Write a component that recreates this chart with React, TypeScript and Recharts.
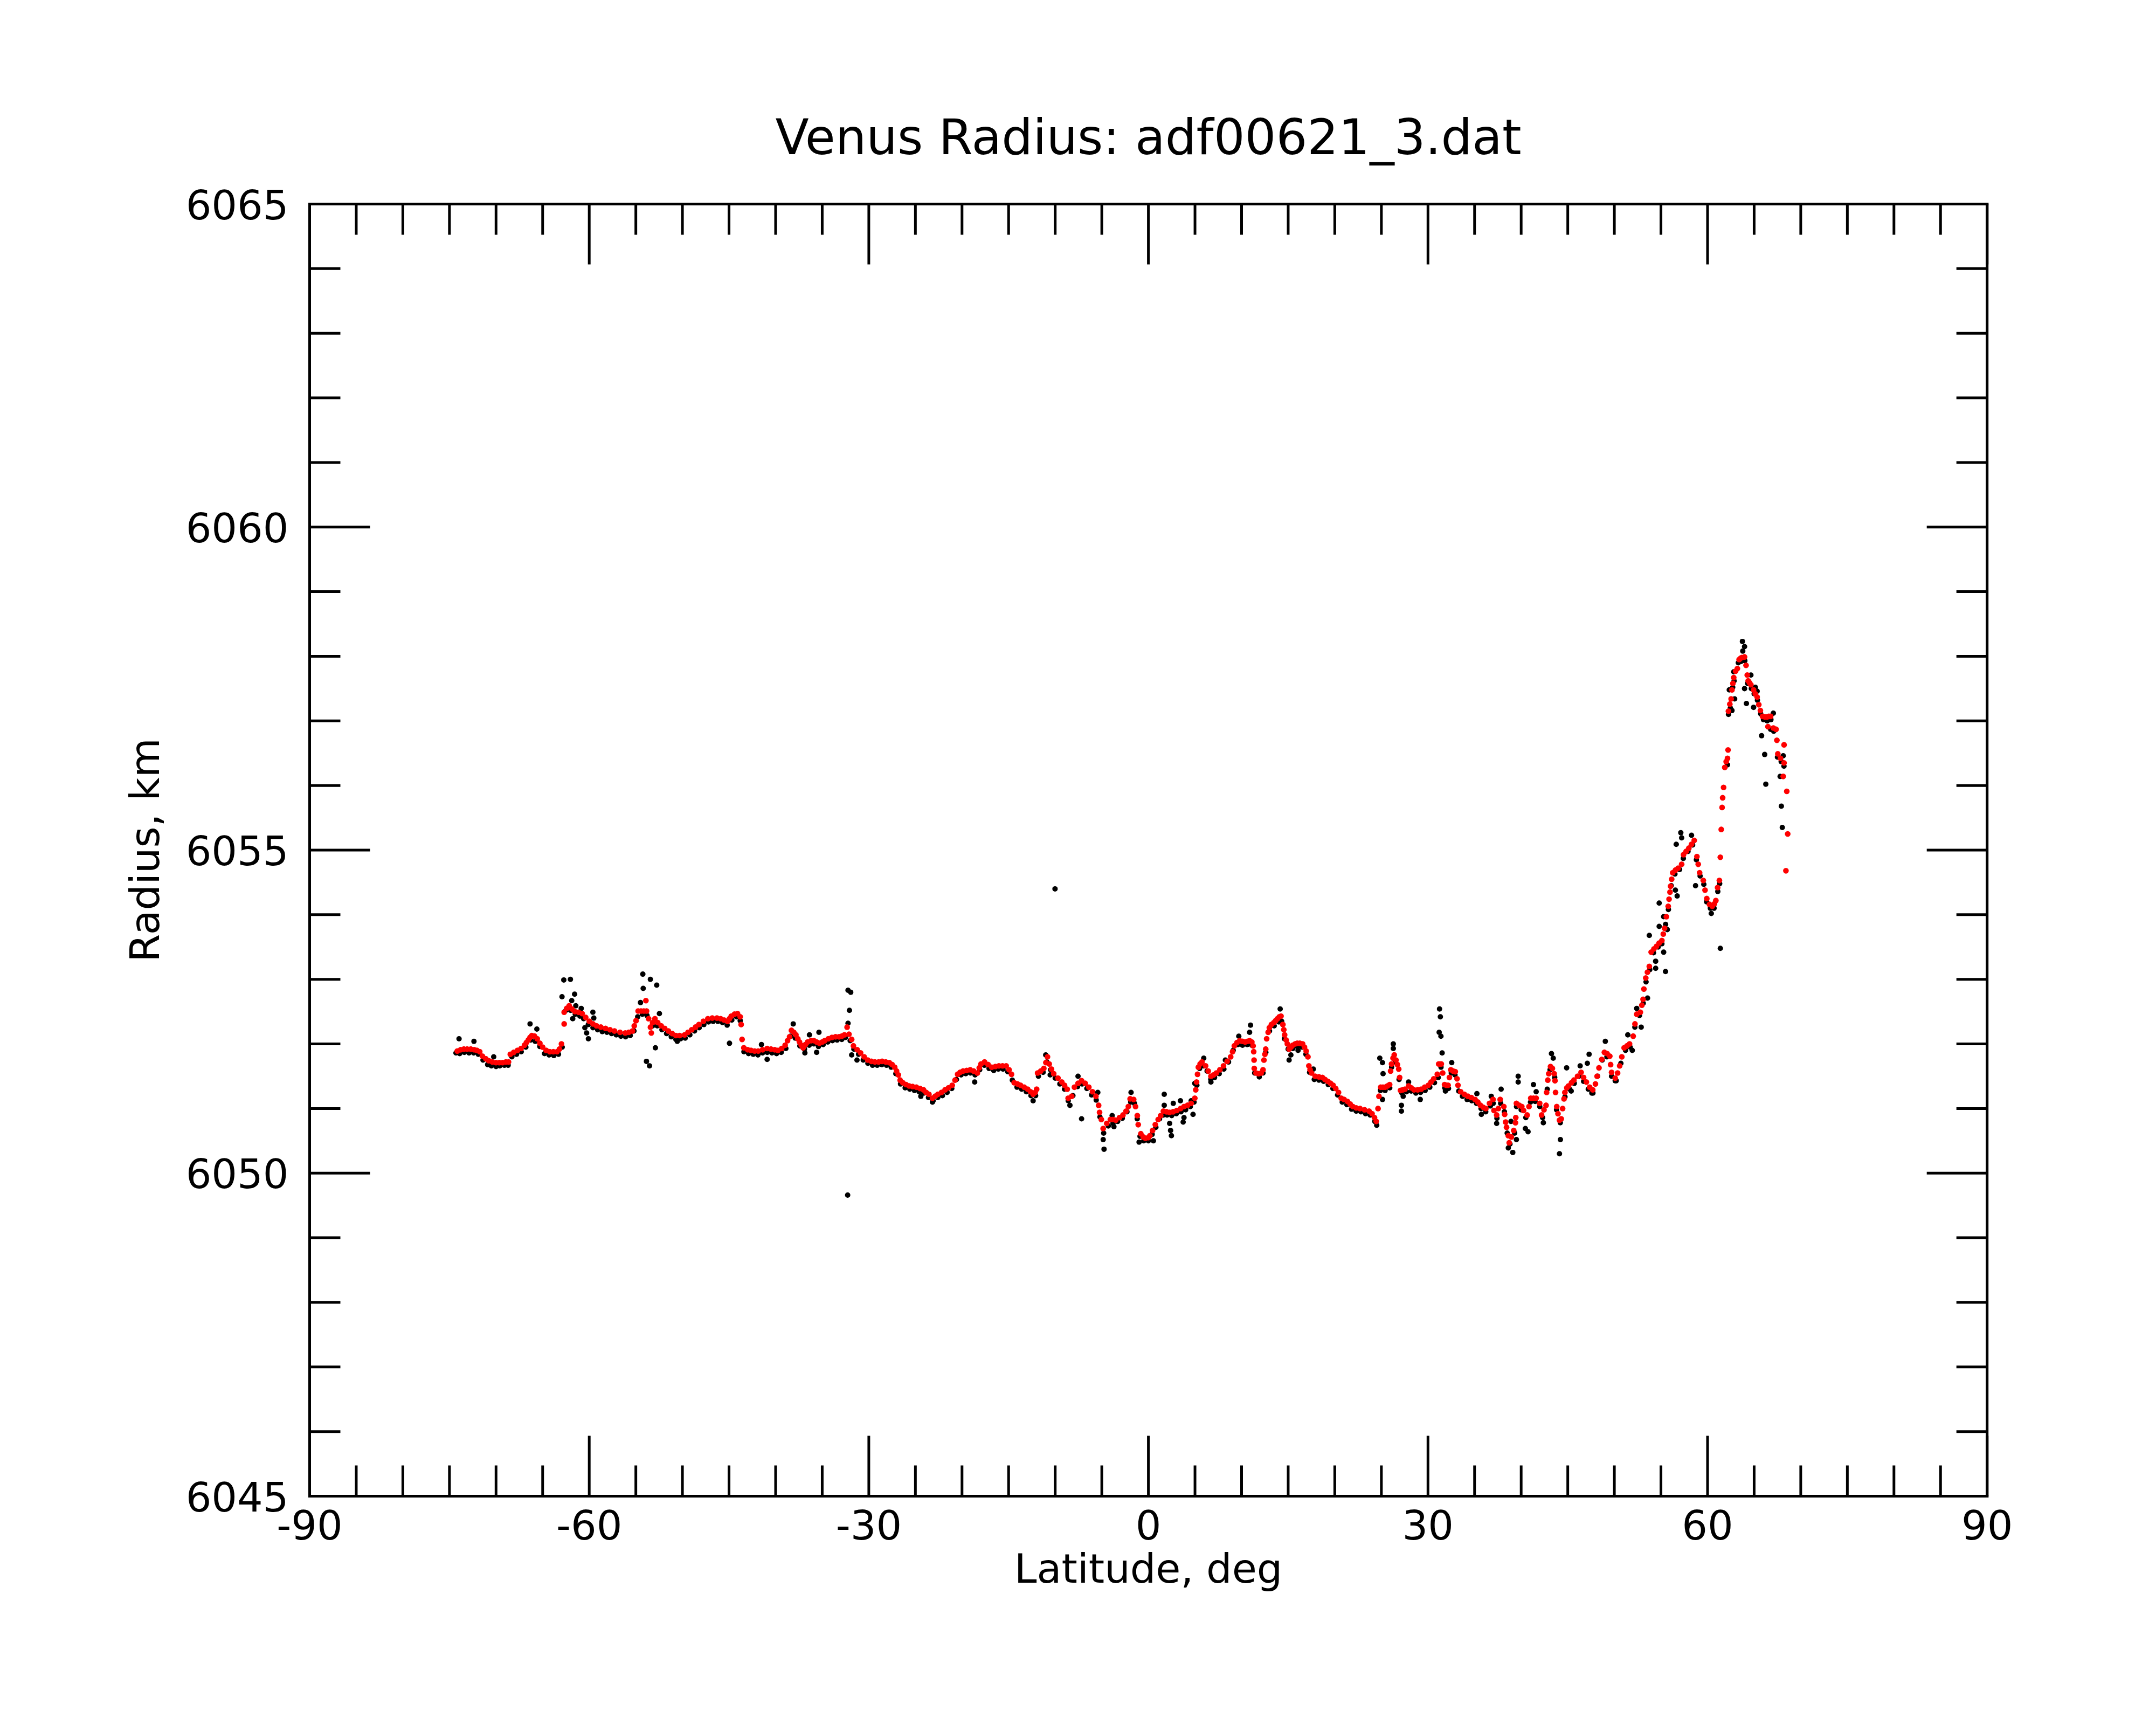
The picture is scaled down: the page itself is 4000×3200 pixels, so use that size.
import React from 'react';
import { ScatterChart, Scatter, XAxis, YAxis } from 'recharts';

// ---------- axis ticks ----------
const X_TICKS = [-90, -85, -80, -75, -70, -65, -60, -55, -50, -45, -40, -35, -30, -25, -20, -15, -10, -5, 0, 5, 10, 15, 20, 25, 30, 35, 40, 45, 50, 55, 60, 65, 70, 75, 80, 85, 90];
const X_LABELS = [-90, -60, -30, 0, 30, 60, 90];
const Y_TICKS = [6045, 6046, 6047, 6048, 6049, 6050, 6051, 6052, 6053, 6054, 6055, 6056, 6057, 6058, 6059, 6060, 6061, 6062, 6063, 6064, 6065];
const Y_LABELS = [6045, 6050, 6055, 6060, 6065];

const TITLE = 'Venus Radius: adf00621_3.dat';
const X_TITLE = 'Latitude, deg';
const Y_TITLE = 'Radius, km';

// ---------- smoothed radius (red), [latitude, radius] ----------
const RED_SOUTH: [number, number][] = [
  [-74.16,6051.89],[-73.8,6051.91],[-73.45,6051.92],[-73.1,6051.92],[-72.71,6051.92],[-72.35,6051.91],[-72.05,6051.9],[-71.75,6051.88],[-71.46,6051.81],[-71.1,6051.77],[-70.78,6051.74],[-70.4,6051.72],[-70.01,6051.71],[-69.65,6051.71],[-69.3,6051.71],[-68.95,6051.72],[-68.66,6051.72],
  [-68.47,6051.84],[-68.1,6051.87],[-67.7,6051.9],[-67.31,6051.93],[-66.95,6051.98],[-66.75,6052.02],[-66.54,6052.06],[-66.35,6052.1],[-66.16,6052.13],[-65.87,6052.12],[-65.58,6052.08],[-65.3,6052.01],[-65.0,6051.95],[-64.62,6051.9],[-64.23,6051.88],[-63.85,6051.88],[-63.46,6051.88],[-63.2,6051.92],[-62.98,6052.0],[-62.69,6052.31],
  [-62.69,6052.49],[-62.42,6052.55],[-62.15,6052.59],[-61.85,6052.54],[-61.53,6052.5],[-61.15,6052.49],[-60.76,6052.47],[-60.38,6052.41],[-59.99,6052.35],[-59.6,6052.31],[-59.22,6052.28],[-58.75,6052.26],[-58.25,6052.24],[-57.77,6052.22],[-57.29,6052.2],[-56.7,6052.18],[-56.13,6052.17],[-55.75,6052.18],[-55.36,6052.2],[-55.17,6052.28],[-54.98,6052.36],[-54.75,6052.51],[-54.45,6052.51],[-54.15,6052.51],[-53.92,6052.67],[-53.85,6052.51],[-53.63,6052.39],[-53.43,6052.26],[-53.34,6052.17],[-53.2,6052.33],[-52.95,6052.39],[-52.65,6052.33],[-52.28,6052.28],[-51.9,6052.24],[-51.51,6052.2],[-51.1,6052.16],[-50.7,6052.13],[-50.3,6052.13],[-49.77,6052.14],[-49.4,6052.18],[-49.0,6052.22],[-48.6,6052.26],[-48.23,6052.3],[-47.75,6052.35],[-47.27,6052.39],[-46.8,6052.4],[-46.3,6052.4],[-45.9,6052.39],[-45.53,6052.37],[-45.15,6052.35],[-44.95,6052.39],[-44.76,6052.43],[-44.42,6052.46],[-44.09,6052.47],[-43.8,6052.42],[-43.7,6052.3],[-43.6,6052.07],[-43.41,6051.94],[-43.0,6051.91],[-42.64,6051.9],[-42.25,6051.89],[-41.87,6051.89],[-41.4,6051.91],[-40.91,6051.93],[-40.5,6051.92],[-40.1,6051.91],[-39.75,6051.9],[-39.35,6051.93],[-38.98,6051.98],[-38.72,6052.05],[-38.5,6052.11],[-38.3,6052.21],[-38.05,6052.18],[-37.82,6052.14],[-37.62,6052.08],[-37.44,6052.03],[-37.25,6051.98],[-37.05,6051.94],[-36.8,6051.99],[-36.57,6052.03],[-36.2,6052.05],[-35.89,6052.05],[-35.6,6052.03],[-35.31,6052.01],[-35.0,6052.03],[-34.74,6052.05],[-34.35,6052.08],[-33.96,6052.1],[-33.57,6052.11],[-33.19,6052.11],[-32.9,6052.12],[-32.62,6052.14],[-32.33,6052.26],[-32.13,6052.15],[-31.84,6052.07],[-31.65,6051.97],[-31.25,6051.91],[-30.88,6051.86],[-30.5,6051.8],[-30.11,6051.75],[-29.72,6051.73],[-29.34,6051.72],[-28.95,6051.72],[-28.57,6051.73],[-28.18,6051.72],[-27.8,6051.71],[-27.5,6051.68],[-27.22,6051.64],
];

const RED_MID: [number, number][] = [
  [-27.02,6051.58],[-26.83,6051.52],[-26.64,6051.44],[-26.35,6051.4],[-26.0,6051.37],[-25.67,6051.35],[-25.3,6051.34],[-24.9,6051.33],[-24.5,6051.31],[-24.13,6051.29],[-23.85,6051.25],[-23.55,6051.22],[-23.17,6051.16],[-22.88,6051.19],[-22.59,6051.22],[-22.2,6051.25],[-21.82,6051.29],[-21.45,6051.32],[-21.05,6051.36],[-20.75,6051.44],[-20.47,6051.53],[-20.2,6051.56],[-19.89,6051.58],[-19.5,6051.59],[-19.12,6051.6],[-18.75,6051.58],[-18.35,6051.55],[-18.15,6051.63],[-17.96,6051.69],[-17.58,6051.72],[-17.2,6051.68],[-16.81,6051.64],[-16.42,6051.65],[-16.04,6051.66],[-15.65,6051.66],[-15.26,6051.66],[-14.95,6051.6],[-14.69,6051.53],[-14.4,6051.4],[-14.05,6051.38],[-13.72,6051.36],[-13.33,6051.33],[-12.95,6051.3],[-12.65,6051.26],[-12.37,6051.22],[-12.15,6051.25],[-11.99,6051.3],
  [-11.89,6051.55],[-11.55,6051.58],[-11.22,6051.62],[-11.0,6051.71],[-10.83,6051.8],[-10.64,6051.69],[-10.4,6051.61],[-10.16,6051.54],[-9.7,6051.47],[-9.29,6051.41],[-9.0,6051.36],[-8.71,6051.3],[-8.61,6051.16],[-8.23,6051.19],[-7.94,6051.33],[-7.55,6051.39],[-7.17,6051.43],[-6.78,6051.39],[-6.39,6051.33],[-6.0,6051.26],[-5.63,6051.19],[-5.34,6051.05],[-5.24,6050.94],[-5.05,6050.83],[-4.85,6050.69],[-4.47,6050.77],[-4.08,6050.83],[-3.8,6050.83],[-3.5,6050.82],[-3.1,6050.86],[-2.73,6050.9],[-2.4,6050.96],[-2.15,6051.03],[-1.96,6051.15],[-1.58,6051.14],[-1.38,6051.03],[-1.19,6050.89],[-1.09,6050.75],[-0.81,6050.61],[-0.55,6050.56],[-0.32,6050.54],[0.0,6050.55],[0.16,6050.58],[0.45,6050.66],[0.74,6050.75],[1.05,6050.83],[1.32,6050.89],[1.61,6050.96],[1.95,6050.95],[2.28,6050.94],[2.65,6050.95],[3.05,6050.97],[3.45,6051.0],[3.82,6051.03],[4.2,6051.05],[4.59,6051.08],[4.98,6051.16],[5.08,6051.29],[5.17,6051.41],[5.27,6051.53],[5.36,6051.64],[5.55,6051.69],[5.75,6051.72],[6.14,6051.66],[6.42,6051.58],[6.71,6051.5],[7.0,6051.52],[7.29,6051.55],[7.67,6051.6],[8.06,6051.66],[8.45,6051.73],[8.83,6051.8],[9.03,6051.88],[9.22,6051.97],[9.5,6052.02],[9.8,6052.05],[10.1,6052.04],[10.38,6052.03],[10.62,6052.04],[10.86,6052.05],[11.1,6052.03],[11.24,6051.97],[11.3,6051.88],[11.34,6051.75],[11.36,6051.62],[11.55,6051.55],[11.82,6051.54],[12.1,6051.55],[12.3,6051.6],[12.4,6051.75],[12.5,6051.84],[12.59,6051.92],[12.69,6052.08],[12.85,6052.18],[12.98,6052.25],[13.2,6052.3],[13.46,6052.33],[13.65,6052.36],[13.85,6052.39],[14.05,6052.42],[14.23,6052.43],[14.43,6052.3],[14.53,6052.22],[14.62,6052.14],[14.78,6052.06],[14.91,6052.0],[15.1,6051.92],[15.3,6051.95],[15.49,6051.98],[15.75,6052.0],[15.97,6052.01],[16.25,6052.01],[16.55,6052.0],[16.75,6051.95],[16.93,6051.89],[17.12,6051.8],[17.22,6051.66],[17.35,6051.6],[17.51,6051.55],[17.9,6051.5],[18.3,6051.49],[18.67,6051.48],[18.95,6051.45],[19.25,6051.42],[19.55,6051.39],[19.82,6051.36],[20.1,6051.31],
];

const RED_NORTH: [number, number][] = [
  [20.4,6051.25],[20.69,6051.16],[21.0,6051.14],[21.36,6051.11],[21.65,6051.07],[21.94,6051.03],[22.3,6051.01],[22.71,6051.0],[23.2,6050.98],[23.68,6050.96],[24.0,6050.92],[24.26,6050.86],[24.45,6050.8],[24.64,6051.0],[24.74,6051.19],[24.93,6051.33],[25.17,6051.33],[25.41,6051.33],[25.65,6051.35],[25.89,6051.37],[25.99,6051.58],[26.09,6051.69],[26.25,6051.78],[26.38,6051.83],[26.57,6051.75],[26.72,6051.68],[26.86,6051.61],[26.96,6051.48],[27.05,6051.28],[27.3,6051.29],[27.53,6051.3],[27.92,6051.35],[28.2,6051.32],[28.5,6051.29],[28.9,6051.29],[29.27,6051.3],[29.65,6051.33],[30.04,6051.36],[30.33,6051.41],[30.62,6051.46],[31.0,6051.53],[31.15,6051.69],[31.29,6051.69],[31.43,6051.69],[31.58,6051.55],[31.78,6051.37],[31.97,6051.36],[32.16,6051.36],[32.3,6051.48],[32.45,6051.6],[32.7,6051.58],[32.93,6051.57],[33.12,6051.46],[33.22,6051.36],[33.51,6051.26],[33.9,6051.22],[34.28,6051.19],[34.65,6051.17],[35.05,6051.14],[35.35,6051.1],[35.63,6051.05],[35.92,6051.02],[36.21,6051.0],[36.6,6051.08],[36.98,6051.14],[37.08,6050.97],[37.37,6050.9],[37.55,6051.0],[37.75,6051.14],[38.14,6051.03],[38.23,6050.91],[38.33,6050.79],[38.43,6050.71],[38.62,6050.58],[38.72,6050.47],[38.95,6050.56],[39.2,6050.66],[39.39,6050.78],[39.42,6050.86],[39.49,6051.08],[39.8,6051.05],[40.07,6051.03],[40.26,6050.97],[40.64,6050.9],[40.84,6051.03],[41.03,6051.16],[41.32,6051.16],[41.61,6051.16],[41.99,6051.08],[42.19,6050.9],[42.45,6050.98],[42.67,6051.05],[42.73,6051.25],[42.86,6051.44],[42.96,6051.54],[43.15,6051.65],[43.35,6051.62],[43.54,6051.54],[43.63,6051.43],[43.69,6051.25],[43.82,6051.03],[43.95,6050.92],[44.11,6050.82],[44.3,6050.84],[44.45,6051.0],[44.6,6051.15],[44.69,6051.25],[44.9,6051.32],[45.08,6051.35],[45.4,6051.4],[45.66,6051.44],[46.05,6051.5],[46.43,6051.56],[46.7,6051.48],[47.0,6051.41],[47.35,6051.33],[47.68,6051.29],[47.97,6051.38],[48.15,6051.5],[48.35,6051.63],[48.65,6051.76],[48.93,6051.87],[49.22,6051.85],[49.51,6051.81],[49.6,6051.68],[49.7,6051.56],[50.09,6051.47],[50.35,6051.55],[50.57,6051.66],[50.8,6051.8],[51.05,6051.94],[51.35,6051.97],[51.63,6052.0],[52.02,6052.12],[52.21,6052.31],[52.4,6052.46],[52.79,6052.49],[52.95,6052.6],[53.08,6052.69],[53.17,6052.85],[53.37,6053.02],[53.55,6053.11],[53.75,6053.2],[53.95,6053.42],[54.25,6053.47],[54.52,6053.51],[54.8,6053.56],[55.1,6053.6],[55.25,6053.7],[55.39,6053.79],[55.58,6053.97],[55.78,6054.13],[55.87,6054.24],[55.97,6054.35],[56.03,6054.44],[56.15,6054.55],[56.26,6054.65],[56.55,6054.69],[56.84,6054.72],[57.22,6054.78],[57.42,6054.93],[57.7,6054.98],[57.99,6055.03],[58.28,6055.09],[58.57,6055.15],[58.86,6054.9],[59.0,6054.78],[59.15,6054.65],[59.54,6054.53],[59.73,6054.38],[59.92,6054.25],[60.21,6054.16],[60.5,6054.13],[60.74,6054.17],[60.89,6054.22],[61.08,6054.42],[61.27,6054.53],[61.37,6054.89],[61.47,6055.32],[61.56,6055.66],[61.62,6055.81],[61.72,6055.97],[61.85,6056.28],[62.0,6056.37],[62.14,6056.42],[62.2,6056.55],[62.24,6057.15],[62.39,6057.26],[62.53,6057.34],[62.62,6057.48],[62.72,6057.58],[62.81,6057.67],[63.01,6057.77],[63.2,6057.81],[63.39,6057.95],[63.55,6057.97],[63.68,6057.98],[63.97,6057.99],[64.13,6057.86],[64.26,6057.71],[64.36,6057.62],[64.5,6057.59],[64.65,6057.56],[64.94,6057.48],[65.12,6057.42],[65.32,6057.37],[65.5,6057.25],[65.67,6057.16],[65.9,6057.07],[66.15,6057.06],[66.38,6057.06],[66.58,6057.07],[66.77,6057.07],[66.48,6056.91],[67.06,6056.89],[67.35,6056.87],[67.44,6056.7],[67.54,6056.49],[67.83,6056.42],[68.21,6056.35],[68.21,6056.63],[68.12,6056.14],[68.5,6055.91],[68.6,6055.25],[68.41,6054.68],
];

// ---------- raw radius (black), [latitude, radius] ----------
const BLACK_CORE: [number, number][] = [
  [-74.3,6051.86],[-73.9,6051.85],[-73.4,6051.87],[-72.9,6051.86],[-72.4,6051.86],[-71.9,6051.84],[-71.4,6051.75],[-70.9,6051.68],[-70.5,6051.66],[-70.0,6051.65],[-69.6,6051.66],[-69.1,6051.67],[-68.7,6051.67],[-68.3,6051.8],[-67.8,6051.84],[-67.3,6051.88],[-66.8,6051.95],[-66.3,6052.06],[-65.8,6052.04],[-65.3,6051.96],[-64.8,6051.85],[-64.3,6051.83],[-63.8,6051.82],[-63.3,6051.84],[-62.9,6051.95],[-62.5,6052.52],[-62.0,6052.52],[-61.5,6052.46],[-61.0,6052.43],[-60.6,6052.39],[-60.1,6052.3],[-59.6,6052.25],[-59.1,6052.22],[-58.6,6052.19],[-58.1,6052.18],[-57.6,6052.16],[-57.1,6052.14],[-56.6,6052.12],[-56.1,6052.11],[-55.6,6052.13],[-55.2,6052.2],[-54.8,6052.42],[-54.3,6052.46],[-53.8,6052.44],[-53.2,6052.28],[-52.7,6052.28],[-52.2,6052.22],[-51.7,6052.16],[-51.2,6052.11],[-50.7,6052.07],[-50.2,6052.08],[-49.7,6052.09],[-49.2,6052.14],[-48.7,6052.2],[-48.2,6052.25],[-47.7,6052.3],[-47.2,6052.34],[-46.7,6052.35],[-46.2,6052.35],[-45.7,6052.33],[-45.2,6052.29],[-44.7,6052.37],[-44.2,6052.42],[-43.8,6052.36],[-43.4,6051.88],[-42.9,6051.85],[-42.4,6051.84],[-41.9,6051.83],[-41.4,6051.86],[-40.9,6051.87],[-40.4,6051.86],[-39.9,6051.85],[-39.4,6051.87],[-38.9,6051.93],[-38.4,6052.12],[-37.9,6052.09],[-37.4,6051.97],[-36.9,6051.92],[-36.4,6051.98],[-35.9,6052.0],[-35.4,6051.96],[-34.9,6051.99],[-34.4,6052.03],[-33.9,6052.05],[-33.4,6052.06],[-32.9,6052.07],[-32.5,6052.1],[-32.0,6052.05],[-31.6,6051.92],[-31.1,6051.84],[-30.6,6051.75],[-30.1,6051.7],[-29.6,6051.67],[-29.1,6051.67],[-28.6,6051.68],[-28.1,6051.67],[-27.6,6051.64],[-27.1,6051.54],
  [-26.6,6051.38],[-26.1,6051.32],[-25.6,6051.3],[-25.1,6051.28],[-24.6,6051.26],[-24.1,6051.24],[-23.6,6051.17],[-23.1,6051.12],[-22.6,6051.17],[-22.1,6051.2],[-21.6,6051.25],[-21.1,6051.31],[-20.6,6051.45],[-20.1,6051.52],[-19.6,6051.54],[-19.1,6051.55],[-18.6,6051.52],[-18.1,6051.6],[-17.6,6051.67],[-17.1,6051.62],[-16.6,6051.59],[-16.1,6051.61],[-15.6,6051.61],[-15.1,6051.57],[-14.6,6051.44],[-14.1,6051.33],[-13.6,6051.3],[-13.1,6051.26],[-12.6,6051.2],[-12.1,6051.2],[-11.8,6051.5],[-11.3,6051.56],[-10.9,6051.72],[-10.5,6051.6],[-10.0,6051.47],[-9.5,6051.38],[-9.0,6051.3],[-8.6,6051.12],[-8.1,6051.2],[-7.6,6051.34],[-7.1,6051.38],[-6.6,6051.31],[-6.1,6051.21],[-5.6,6051.13],[-5.2,6050.87],[-4.8,6050.62],[-4.3,6050.73],[-3.8,6050.77],[-3.3,6050.8],[-2.8,6050.85],[-2.3,6050.95],[-1.9,6051.1],[-1.5,6051.08],[-1.2,6050.84],[-0.9,6050.57],[-0.5,6050.5],[0.0,6050.5],[0.4,6050.6],[0.8,6050.71],[1.2,6050.84],[1.6,6050.9],[2.0,6050.9],[2.5,6050.89],[3.0,6050.92],[3.5,6050.95],[4.0,6050.98],[4.5,6051.03],[4.9,6051.1],[5.2,6051.36],[5.5,6051.62],[5.9,6051.66],[6.3,6051.58],[6.7,6051.45],[7.1,6051.48],[7.6,6051.54],[8.1,6051.61],[8.6,6051.72],[9.1,6051.9],[9.6,6051.99],[10.1,6051.98],[10.6,6051.99],[11.1,6051.98],[11.4,6051.55],[11.9,6051.49],[12.3,6051.55],[12.6,6051.87],[13.0,6052.2],[13.5,6052.28],[14.0,6052.34],[14.3,6052.35],[14.6,6052.08],[15.0,6051.92],[15.5,6051.93],[16.0,6051.96],[16.5,6051.95],[16.9,6051.84],[17.3,6051.56],[17.8,6051.45],[18.3,6051.44],[18.8,6051.42],[19.3,6051.37],[19.8,6051.31],
  [20.3,6051.21],[20.8,6051.1],[21.3,6051.06],[21.8,6050.99],[22.3,6050.96],[22.8,6050.95],[23.3,6050.92],[23.8,6050.9],[24.3,6050.8],[24.5,6050.74],[24.9,6051.28],[25.4,6051.28],[25.9,6051.32],[26.1,6051.64],[26.5,6051.72],[26.9,6051.45],[27.2,6051.24],[27.7,6051.26],[28.2,6051.27],[28.7,6051.24],[29.2,6051.25],[29.7,6051.28],[30.2,6051.33],[30.7,6051.4],[31.1,6051.48],[31.4,6051.64],[31.8,6051.32],[32.2,6051.31],[32.5,6051.55],[32.9,6051.52],[33.3,6051.27],[33.7,6051.19],[34.2,6051.14],[34.7,6051.12],[35.2,6051.08],[35.7,6051.0],[36.2,6050.95],[36.7,6051.04],[37.0,6051.08],[37.4,6050.85],[37.8,6051.08],[38.2,6050.95],[38.5,6050.62],[38.8,6050.45],[39.3,6050.62],[39.5,6051.03],[40.0,6050.98],[40.5,6050.86],[41.0,6051.1],[41.5,6051.11],[42.0,6051.03],[42.3,6050.86],[42.8,6051.3],[43.1,6051.6],[43.6,6051.48],[43.8,6050.98],[44.2,6050.78],[44.7,6051.18],[45.2,6051.3],[45.7,6051.39],[46.2,6051.5],[46.7,6051.42],[47.2,6051.3],[47.7,6051.24],[48.2,6051.5],[48.7,6051.75],[49.2,6051.8],[49.7,6051.5],[50.2,6051.43],[50.7,6051.7],[51.2,6051.9],[51.7,6051.95],[52.2,6052.26],[52.7,6052.44],[53.1,6052.63],[53.4,6052.96],[53.8,6053.15],[54.2,6053.41],[54.7,6053.5],[55.1,6053.55],[55.5,6053.85],[55.8,6054.08],[56.1,6054.45],[56.5,6054.63],[57.0,6054.7],[57.4,6054.87],[57.9,6054.98],[58.4,6055.08],[58.8,6054.85],[59.2,6054.6],[59.6,6054.47],[59.9,6054.2],[60.3,6054.1],[60.7,6054.1],[61.1,6054.36],[61.3,6054.48],
  [62.25,6057.1],[62.45,6057.2],[62.7,6057.52],[62.85,6057.62],[63.3,6057.9],[63.6,6057.92],[64.0,6057.93],[64.3,6057.58],[64.7,6057.5],[65.0,6057.42],[65.35,6057.32],[65.7,6057.11],[66.0,6057.02],[66.4,6057.0],[66.8,6057.02],[67.1,6056.84],[67.5,6056.44],[67.9,6056.37],[68.2,6056.3],
];

const BLACK_OUTLIERS: [number, number][] = [
  [-73.97,6052.08],[-72.37,6052.04],[-70.25,6051.8],[-66.35,6052.31],[-65.62,6052.23],[-62.73,6052.99],[-62.02,6053.0],[-62.92,6052.73],[-61.57,6052.77],[-61.88,6052.67],[-61.44,6052.59],[-60.86,6052.55],[-61.77,6052.39],[-59.61,6052.49],[-59.51,6052.4],[-60.47,6052.25],[-60.28,6052.17],[-60.09,6052.08],[-54.25,6053.08],[-53.44,6053.0],[-52.76,6052.91],[-54.21,6052.86],[-54.5,6052.64],[-52.47,6052.47],[-52.9,6051.94],[-53.86,6051.73],[-53.53,6051.66],
  [-44.95,6052.01],[-32.23,6052.83],[-31.94,6052.8],[-32.08,6052.52],[-32.23,6052.32],[-32.27,6049.66],[-31.84,6051.83],[-31.27,6051.75],[-38.11,6052.31],[-40.91,6051.76],[-41.52,6051.99],[-50.55,6052.04],[-35.35,6052.18],[-36.37,6052.14],[-35.6,6051.87],[-36.86,6051.86],
  [-18.64,6051.41],[-24.42,6051.19],[-23.17,6051.1],[-12.37,6051.12],[-11.02,6051.83],[-10.54,6051.52],[-7.55,6051.5],[-8.42,6051.05],[-7.17,6050.84],[-4.85,6050.52],[-4.76,6050.37],[-5.43,6051.25],[-3.89,6050.89],[-3.7,6050.72],[-10.02,6054.4],
  [-1.86,6051.25],[-1.0,6050.48],[0.54,6050.5],[1.7,6051.22],[1.7,6051.05],[2.28,6050.77],[2.38,6050.66],[2.47,6050.58],[2.67,6051.08],[3.44,6051.12],[3.73,6050.79],[3.82,6050.86],[4.59,6051.12],[4.79,6050.91],[4.98,6051.39],[5.94,6051.78],[6.71,6051.41],[8.26,6051.75],[9.7,6052.12],[10.96,6052.29],[10.86,6052.18],[14.14,6052.54],[15.1,6051.75],[15.29,6051.83],[16.06,6051.9],[17.7,6051.61],
  [24.83,6051.78],[25.12,6051.71],[25.18,6051.54],[25.12,6051.14],[26.28,6052.0],[26.28,6051.93],[27.15,6051.05],[27.15,6050.96],[27.34,6051.19],[27.92,6051.41],[29.17,6051.14],[31.24,6052.54],[31.33,6052.42],[31.2,6052.18],[31.39,6052.12],[31.52,6051.86],[31.87,6051.27],[32.55,6051.71],[35.25,6051.23],[35.73,6050.91],[36.79,6051.19],[37.37,6050.77],[37.85,6051.3],[39.1,6050.32],[38.62,6050.39],[38.91,6050.8],[39.49,6050.52],[39.68,6051.5],[39.68,6051.41],[40.45,6050.69],[40.74,6050.64],[41.32,6051.37],[41.61,6051.26],[42.38,6050.78],[43.25,6051.85],[43.44,6051.78],[44.21,6050.52],[44.11,6050.3],
  [57.13,6055.27],[57.22,6055.19],[56.64,6055.09],[58.28,6055.23],[58.71,6054.45],[56.55,6054.38],[56.74,6054.29],[54.81,6054.18],[55.29,6053.97],[55.68,6053.77],[54.81,6053.82],[53.75,6053.68],[55.29,6053.42],[55.49,6053.12],[54.43,6053.17],[54.43,6053.28],[61.37,6053.48],[53.56,6052.71],[52.4,6052.55],[52.88,6052.26],[51.44,6052.14],[51.92,6051.9],[49.03,6052.04],[47.29,6051.84],[47.1,6051.7],[44.88,6051.63],[46.33,6051.66],[45.37,6051.27],[47.58,6051.24],[50.09,6051.43],[60.4,6054.02],
  [63.74,6058.23],[63.97,6058.15],[63.78,6058.08],[62.81,6057.76],[64.65,6057.71],[62.33,6057.48],[62.91,6057.34],[62.62,6057.16],[63.97,6057.5],[64.17,6057.27],[64.94,6057.21],[65.13,6057.52],[65.32,6057.46],[67.06,6057.12],[66.77,6056.87],[65.8,6056.77],[66.13,6056.48],[68.12,6056.46],[67.79,6056.14],[66.25,6056.02],[67.92,6055.68],[68.02,6055.35],[62.14,6056.32],
];

// ---------- layout ----------
const W = 4000;
const H = 3200;
const PLOT_L = 574.5;
const PLOT_R = 3686.7;
const PLOT_T = 378.5;
const PLOT_B = 2775.5;
const BOTTOM_AXIS_H = 100;
const TOP_AXIS_H = 50;
const LEFT_AXIS_W = 200;
const RIGHT_AXIS_W = 50;
const MAJOR_LEN = 112;
const MINOR_LEN = 57;
const LINE_W = 5;
const FONT = '"DejaVu Sans", Verdana, sans-serif';
const LABEL_SIZE = 75;
const RED_R = 5.3;
const BLACK_R = 5;

const toPoints = (rows: [number, number][]) => rows.map(([x, y]) => ({ x, y }));
const redData = [...toPoints(RED_SOUTH), ...toPoints(RED_MID), ...toPoints(RED_NORTH)];
const blackData = [...toPoints(BLACK_CORE), ...toPoints(BLACK_OUTLIERS)];

const BottomTick = (p: any) => {
  const v = p.payload.value;
  const major = X_LABELS.includes(v);
  return (
    <g>
      <line x1={p.x} x2={p.x} y1={p.y} y2={p.y - (major ? MAJOR_LEN : MINOR_LEN)} stroke="#000" strokeWidth={LINE_W} />
      {major && (
        <text x={p.x} y={p.y + 80} textAnchor="middle" fontSize={LABEL_SIZE} fontFamily={FONT} fill="#000">{String(v)}</text>
      )}
    </g>
  );
};

const TopTick = (p: any) => {
  const v = p.payload.value;
  const major = X_LABELS.includes(v);
  return <line x1={p.x} x2={p.x} y1={p.y} y2={p.y + (major ? MAJOR_LEN : MINOR_LEN)} stroke="#000" strokeWidth={LINE_W} />;
};

const LeftTick = (p: any) => {
  const v = p.payload.value;
  const major = Y_LABELS.includes(v);
  return (
    <g>
      <line x1={p.x} x2={p.x + (major ? MAJOR_LEN : MINOR_LEN)} y1={p.y} y2={p.y} stroke="#000" strokeWidth={LINE_W} />
      {major && (
        <text x={p.x - 39} y={p.y + 28} textAnchor="end" fontSize={LABEL_SIZE} fontFamily={FONT} fill="#000">{String(v)}</text>
      )}
    </g>
  );
};

const RightTick = (p: any) => {
  const v = p.payload.value;
  const major = Y_LABELS.includes(v);
  return <line x1={p.x} x2={p.x - (major ? MAJOR_LEN : MINOR_LEN)} y1={p.y} y2={p.y} stroke="#000" strokeWidth={LINE_W} />;
};

const RedDot = (p: any) => <circle cx={p.cx} cy={p.cy} r={RED_R} fill="#ff0000" />;
const BlackDot = (p: any) => <circle cx={p.cx} cy={p.cy} r={BLACK_R} fill="#000000" />;

const axisLine = { stroke: '#000', strokeWidth: LINE_W, strokeLinecap: 'square' as const };

export default function App() {
  const plotCX = (PLOT_L + PLOT_R) / 2;
  const plotCY = (PLOT_T + PLOT_B) / 2;
  return (
    <div style={{ position: 'absolute', left: 0, top: 0, width: W, height: H, background: '#fff' }}>
      <ScatterChart
        width={W}
        height={H}
        margin={{
          top: PLOT_T - TOP_AXIS_H,
          bottom: H - PLOT_B - BOTTOM_AXIS_H,
          left: PLOT_L - LEFT_AXIS_W,
          right: W - PLOT_R - RIGHT_AXIS_W,
        }}
      >
        <XAxis
          xAxisId="b"
          type="number"
          dataKey="x"
          orientation="bottom"
          domain={[-90, 90]}
          ticks={X_TICKS}
          interval={0}
          height={BOTTOM_AXIS_H}
          tickSize={0}
          tickMargin={0}
          tickLine={false}
          axisLine={axisLine}
          tick={(p: any) => <BottomTick {...p} />}
          allowDataOverflow
        />
        <XAxis
          xAxisId="t"
          type="number"
          dataKey="x"
          orientation="top"
          domain={[-90, 90]}
          ticks={X_TICKS}
          interval={0}
          height={TOP_AXIS_H}
          tickSize={0}
          tickMargin={0}
          tickLine={false}
          axisLine={axisLine}
          tick={(p: any) => <TopTick {...p} />}
          allowDataOverflow
        />
        <YAxis
          yAxisId="l"
          type="number"
          dataKey="y"
          orientation="left"
          domain={[6045, 6065]}
          ticks={Y_TICKS}
          interval={0}
          width={LEFT_AXIS_W}
          tickSize={0}
          tickMargin={0}
          tickLine={false}
          axisLine={axisLine}
          tick={(p: any) => <LeftTick {...p} />}
          allowDataOverflow
        />
        <YAxis
          yAxisId="r"
          type="number"
          dataKey="y"
          orientation="right"
          domain={[6045, 6065]}
          ticks={Y_TICKS}
          interval={0}
          width={RIGHT_AXIS_W}
          tickSize={0}
          tickMargin={0}
          tickLine={false}
          axisLine={axisLine}
          tick={(p: any) => <RightTick {...p} />}
          allowDataOverflow
        />
        <Scatter
          name="raw"
          data={blackData}
          xAxisId="b"
          yAxisId="l"
          shape={(p: any) => <BlackDot {...p} />}
          isAnimationActive={false}
        />
        <Scatter
          name="smoothed"
          data={redData}
          xAxisId="b"
          yAxisId="l"
          shape={(p: any) => <RedDot {...p} />}
          isAnimationActive={false}
        />
      </ScatterChart>
      <svg
        width={W}
        height={H}
        style={{ position: 'absolute', left: 0, top: 0, pointerEvents: 'none' }}
      >
        <text x={plotCX} y={286} textAnchor="middle" fontSize={91} fontFamily={FONT} fill="#000">{TITLE}</text>
        <text x={plotCX} y={2936} textAnchor="middle" fontSize={LABEL_SIZE} fontFamily={FONT} fill="#000">{X_TITLE}</text>
        <text
          x={295}
          y={plotCY}
          textAnchor="middle"
          fontSize={LABEL_SIZE}
          fontFamily={FONT}
          fill="#000"
          transform={`rotate(-90 295 ${plotCY})`}
        >
          {Y_TITLE}
        </text>
      </svg>
    </div>
  );
}
